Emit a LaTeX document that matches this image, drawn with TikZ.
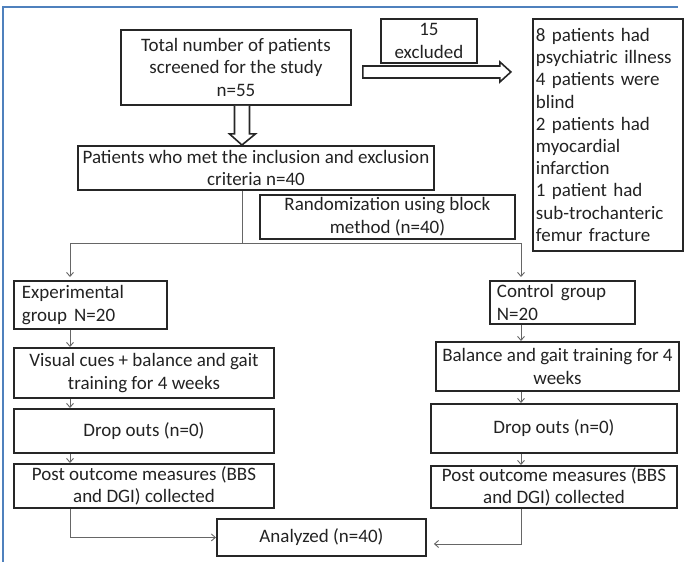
\documentclass[tikz,border=0pt]{standalone}
\usepackage{fontspec}
\setmainfont{Carlito}
\usetikzlibrary{arrows.meta,calc}
\definecolor{frameblue}{RGB}{79,129,189}
\definecolor{txt}{RGB}{34,34,34}
\begin{document}
\begin{tikzpicture}[x=1pt,y=-1pt,
  box/.style={draw=black!85,line width=1.9pt,rectangle,anchor=north west,inner sep=0pt,
    font=\fontsize{19}{22.5}\selectfont,text=txt,align=center},
  lbox/.style={box,align=left},
  conn/.style={draw=black!60,line width=0.9pt},
  arr/.style={conn,-{Straight Barb[length=4pt,width=7pt]}},
  hollow/.style={draw=black!85,line width=1.6pt,fill=white,line join=miter}
]
\useasboundingbox (0,0) rectangle (686,562);
\draw[frameblue,line width=1.6pt] (3,562) -- (3,7) -- (678,7);

\node[box,minimum width=230pt,minimum height=75pt] (total) at (120,29)
  {Total number of patients\\screened for the study\\n=55};
\node[box,minimum width=96pt,minimum height=44pt] (excl) at (380,18) {15\\excluded};
\node[lbox,minimum width=150pt,minimum height=232pt,text width=144pt,font=\fontsize{19}{22.2}\selectfont] (reasons) at (532,18)
  {8 patients had\\psychiatric illness\\4 patients were\\blind\\2 patients had\\myocardial\\infarction\\1 patient had\\sub-trochanteric\\femur fracture};
\node[box,minimum width=356pt,minimum height=44pt] (incl) at (77,145)
  {Patients who met the inclusion and exclusion\\criteria n=40};
\node[box,minimum width=255pt,minimum height=44pt] (rand) at (259,194)
  {Randomization using block\\method (n=40)};
\node[lbox,minimum width=153pt,minimum height=48pt,text width=137pt] (exp) at (13,280)
  {Experimental\\group\hspace{7pt}N=20};
\node[lbox,minimum width=145pt,minimum height=43pt,text width=131pt] (ctrl) at (489,280)
  {Control\hspace{7pt}group\\N=20};
\node[box,minimum width=260pt,minimum height=50pt] (visual) at (13,347)
  {Visual cues + balance and gait\\training for 4 weeks};
\node[box,minimum width=243pt,minimum height=49pt] (balance) at (435,341)
  {Balance and gait training for 4\\weeks};
\node[box,minimum width=260pt,minimum height=44pt] (dropL) at (13,408) {Drop outs (n=0)};
\node[box,minimum width=246pt,minimum height=49pt] (dropR) at (430,403) {Drop outs (n=0)};
\node[box,minimum width=260pt,minimum height=44pt] (postL) at (13,463)
  {Post outcome measures (BBS\\and DGI) collected};
\node[box,minimum width=246pt,minimum height=42pt] (postR) at (430,465)
  {Post outcome measures (BBS\\and DGI) collected};
\node[box,minimum width=209pt,minimum height=37pt] (analyzed) at (216,518) {Analyzed (n=40)};

% hollow arrows
\path (total.south) ++(6,0) coordinate (hd);
\draw[hollow] ($(hd)+(-7.5,0)$) -- ++(0,28) -- ++(-5,0) -- ($(hd |- incl.north)+(0,0)$)
  -- ($(hd)+(13.5,28)$) -- ++(-6,0) -- ($(hd)+(7.5,0)$);
\path (total.east) ++(11,4.5) coordinate (hr);
\draw[hollow] ($(hr)+(0,-6)$) -- ++(137,0) -- ++(0,-4) -- ++(11,10) -- ++(-11,10) -- ++(0,-4) -- ++(-137,0) -- cycle;

% connectors
\coordinate (colL) at (70,0);
\coordinate (colR) at (521,0);
\coordinate (j) at (242,243);
\draw[conn] (incl.south -| j) -- (j);
\draw[arr,shorten >=3pt] (j) -| (exp.north -| colL);
\draw[arr,shorten >=3pt] (j) -| (ctrl.north -| colR);
\draw[arr] (exp.south -| colL) -- (visual.north -| colL);
\draw[arr] (visual.south -| colL) -- (dropL.north -| colL);
\draw[arr] (dropL.south -| colL) -- (postL.north -| colL);
\draw[arr] (ctrl.south -| colR) -- (balance.north -| colR);
\draw[arr] (balance.south -| colR) -- (dropR.north -| colR);
\draw[arr] (dropR.south -| colR) -- (postR.north -| colR);
\draw[arr] (postL.south -| colL) |- (analyzed.west);
\draw[arr,shorten >=7pt] (postR.south -| colR) |- ([yshift=-6.5pt]analyzed.east);
\end{tikzpicture}
\end{document}
